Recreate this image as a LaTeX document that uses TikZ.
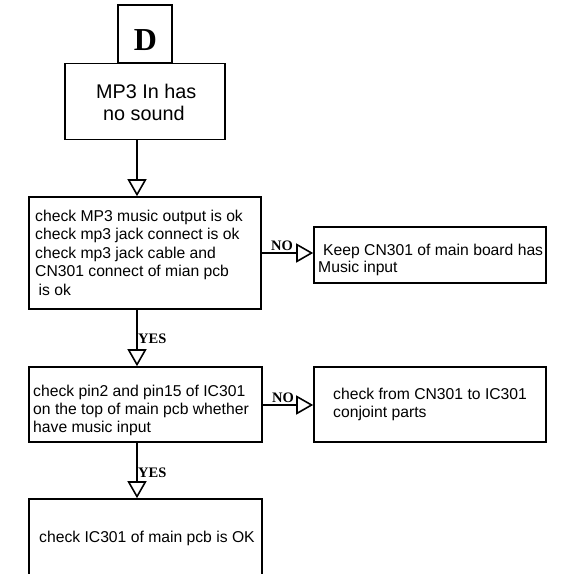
\documentclass[tikz,border=0pt]{standalone}
\usepackage{fontspec}
\setmainfont{Liberation Sans}
\newfontfamily\tagfont{Liberation Serif}
\usetikzlibrary{arrows.meta}
\begin{document}
\begin{tikzpicture}[x=1pt,y=-1pt,
  box/.style={draw, line width=1.6pt, rectangle, inner sep=0pt},
  % multi-line texts are placed by the baseline of their last line
  txt/.style={inner sep=0pt, align=left, anchor=base west,
    font=\fontsize{15.7}{18.5}\selectfont},
  flow/.style={line width=1.6pt, -{Triangle[open, length=17pt, width=19pt]}},
  tag/.style={inner sep=0pt, anchor=base west,
    font=\tagfont\bfseries\fontsize{14.5}{16}\selectfont}
]
\clip (0,0) rectangle (566,574);

% boxes
\node[box, minimum width=54pt, minimum height=58pt] (d) at (145,34) {};
\node[box, minimum width=160pt, minimum height=76pt] (mp3) at (145,101.5) {};
\node[box, minimum width=232pt, minimum height=112pt] (b1) at (145,253) {};
\node[box, minimum width=232pt, minimum height=56pt] (r1) at (430,255) {};
\node[box, minimum width=233pt, minimum height=75pt] (b2) at (145.5,404.5) {};
\node[box, minimum width=232pt, minimum height=75pt] (r2) at (430,404.5) {};
\node[box, minimum width=233pt, minimum height=84pt] (b3) at (145.5,541) {};

% texts
\node[inner sep=0pt, anchor=base, font=\tagfont\bfseries\fontsize{32}{34}\selectfont] (dl) at (145.5,50) {D};
\node[inner sep=0pt, align=left, anchor=base west, font=\fontsize{19.8}{22}\selectfont] (mp3t) at (96,120)
  {MP3 In has\\\hspace*{7pt}no sound};
\node[txt, font=\fontsize{15.7}{18.6}\selectfont] (b1t) at (35,295.4)
  {check MP3 music output is ok\\check mp3 jack connect is ok\\check mp3 jack cable and\\CN301 connect of mian pcb\\\hspace*{3.5pt}is ok};
\node[txt, font=\fontsize{15.7}{17.5}\selectfont] (r1t) at (318,272.5)
  {\hspace*{5pt}Keep CN301 of main board has\\Music input};
\node[txt, font=\fontsize{15.7}{18.3}\selectfont] (b2t) at (33,432.6)
  {check pin2 and pin15 of IC301\\on the top of main pcb whether\\have music input};
\node[txt, font=\fontsize{15.7}{18}\selectfont] (r2t) at (333,417)
  {check from CN301 to IC301\\conjoint parts};
\node[txt] (b3t) at (39,542) {check IC301 of main pcb is OK};

% connectors
\coordinate (cx) at (137,0);
\coordinate (y1) at (0,253);
\coordinate (y2) at (0,405);
\draw[flow] (mp3.south -| cx) -- (b1.north -| cx);
\draw[flow] (b1.south -| cx) -- (b2.north -| cx);
\draw[flow] (b2.south -| cx) -- (b3.north -| cx);
\draw[flow] (b1.east |- y1) -- (r1.west |- y1);
\draw[flow] (b2.east |- y2) -- (r2.west |- y2);

% branch labels
\node[tag] (no1) at (271,250) {NO};
\node[tag] (no2) at (272,402) {NO};
\node[tag] (yes1) at (138,343) {YES};
\node[tag] (yes2) at (138,477) {YES};
\end{tikzpicture}
\end{document}
